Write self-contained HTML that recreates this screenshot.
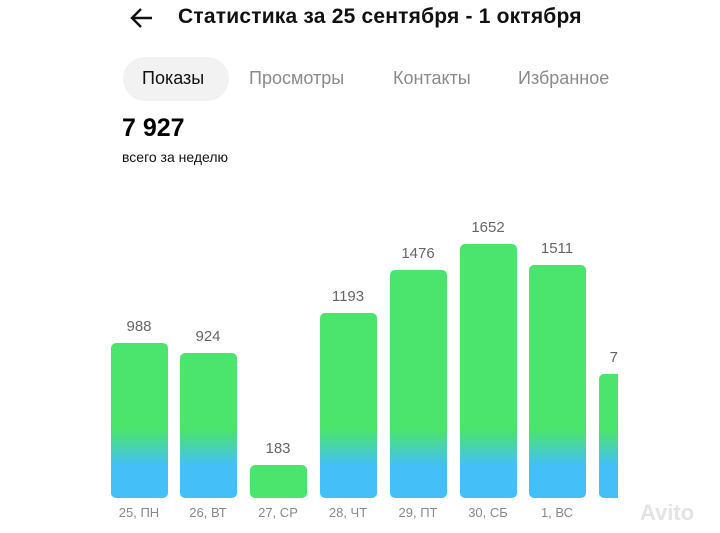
<!DOCTYPE html>
<html><head><meta charset="utf-8"><style>
body{margin:0;width:720px;height:533px;background:#fff;position:relative;overflow:hidden;font-family:"Liberation Sans","DejaVu Sans",sans-serif}
.a{position:absolute}
.bar{position:absolute;bottom:35px;border-radius:5px;background:linear-gradient(to top,#45bff8 0px,#45bff8 32px,#4be46c 68px,#4be46c 100%)}
.v{position:absolute;font-size:15px;color:#666;text-align:center;width:70px}
.d{position:absolute;top:505px;font-size:13px;color:#888;text-align:center;width:70px}
.t{position:absolute;top:68px;font-size:18px;color:#8a8a8a}
</style></head><body>
<svg class="a" style="left:130px;top:7px" width="24" height="22" viewBox="0 0 24 22"><path d="M22 11H3M11 2L2 11L11 20" stroke="#111" stroke-width="2.4" fill="none"/></svg>
<div class="a" style="left:178px;top:5px;font-size:21px;font-weight:bold;color:#111;letter-spacing:0.2px">Статистика за 25 сентября - 1 октября</div>
<div class="a" style="left:123px;top:57px;width:106px;height:44px;border-radius:22px;background:#f2f2f2"></div>
<div class="t" style="left:142px;color:#111">Показы</div>
<div class="t" style="left:249px">Просмотры</div>
<div class="t" style="left:393px">Контакты</div>
<div class="t" style="left:518px">Избранное</div>
<div class="a" style="left:122px;top:114px;font-size:25px;font-weight:bold;color:#000">7 927</div>
<div class="a" style="left:122px;top:149px;font-size:14px;color:#111">всего за неделю</div>

<div class="bar" style="left:111px;width:57px;top:343px"></div>
<div class="bar" style="left:180px;width:57px;top:353px"></div>
<div class="bar" style="left:250px;width:57px;top:465px;background:#4be46c"></div>
<div class="bar" style="left:320px;width:57px;top:313px"></div>
<div class="bar" style="left:390px;width:57px;top:270px"></div>
<div class="bar" style="left:460px;width:57px;top:244px"></div>
<div class="bar" style="left:529px;width:57px;top:265px"></div>
<div class="bar" style="left:599px;width:19px;top:374px;border-radius:5px 0 0 5px"></div>

<div class="v" style="left:104px;top:318px">988</div>
<div class="v" style="left:173px;top:328px">924</div>
<div class="v" style="left:243px;top:440px">183</div>
<div class="v" style="left:313px;top:288px">1193</div>
<div class="v" style="left:383px;top:245px">1476</div>
<div class="v" style="left:453px;top:219px">1652</div>
<div class="v" style="left:522px;top:240px">1511</div>
<div class="v" style="left:580px;top:349px;text-align:right;width:38px;overflow:hidden">7</div>

<div class="d" style="left:104px">25, ПН</div>
<div class="d" style="left:173px">26, ВТ</div>
<div class="d" style="left:243px">27, СР</div>
<div class="d" style="left:313px">28, ЧТ</div>
<div class="d" style="left:383px">29, ПТ</div>
<div class="d" style="left:453px">30, СБ</div>
<div class="d" style="left:522px">1, ВС</div>
<div class="a" style="left:640px;top:500px;font-size:22px;color:#e4e4e4;font-weight:bold">Avito</div>
</body></html>
